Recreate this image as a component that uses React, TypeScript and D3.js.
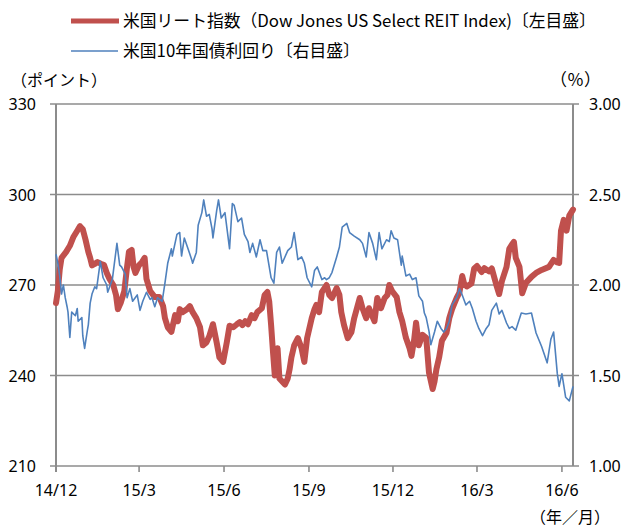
import * as d3 from "d3";

// 米国リート指数（左目盛, ポイント）
const reitData: [string, number][] = [
  ["2014-12-01", 264], ["2014-12-03", 268], ["2014-12-05", 275], ["2014-12-07", 279], ["2014-12-12", 281],
  ["2014-12-16", 283], ["2014-12-20", 286], ["2014-12-24", 288], ["2014-12-27", 289.5], ["2014-12-30", 288.5],
  ["2015-01-02", 285], ["2015-01-05", 281], ["2015-01-07", 279], ["2015-01-09", 276.5], ["2015-01-12", 277],
  ["2015-01-15", 277.6], ["2015-01-19", 277], ["2015-01-22", 276.6], ["2015-01-25", 274], ["2015-01-28", 272],
  ["2015-02-01", 270], ["2015-02-04", 266.7], ["2015-02-06", 262], ["2015-02-09", 264], ["2015-02-13", 268],
  ["2015-02-16", 276], ["2015-02-18", 281], ["2015-02-21", 281.6], ["2015-02-23", 276], ["2015-02-25", 274],
  ["2015-03-01", 276.6], ["2015-03-04", 277.5], ["2015-03-07", 279], ["2015-03-09", 272], ["2015-03-13", 268],
  ["2015-03-18", 266], ["2015-03-23", 266], ["2015-03-27", 263], ["2015-03-29", 259], ["2015-04-01", 256],
  ["2015-04-05", 254.5], ["2015-04-09", 260], ["2015-04-12", 258], ["2015-04-14", 262], ["2015-04-17", 261],
  ["2015-04-22", 262], ["2015-04-25", 263], ["2015-04-28", 261], ["2015-05-02", 259], ["2015-05-06", 256],
  ["2015-05-09", 250], ["2015-05-13", 251], ["2015-05-16", 253], ["2015-05-20", 257], ["2015-05-24", 251],
  ["2015-05-27", 246], ["2015-05-31", 244.5], ["2015-06-04", 251], ["2015-06-07", 256.5], ["2015-06-11", 256],
  ["2015-06-15", 257], ["2015-06-18", 257.7], ["2015-06-21", 256.7], ["2015-06-24", 258], ["2015-06-27", 257],
  ["2015-07-01", 260], ["2015-07-04", 259], ["2015-07-07", 261], ["2015-07-12", 262.3], ["2015-07-15", 266.7],
  ["2015-07-18", 267.7], ["2015-07-20", 264.4], ["2015-07-22", 256.7], ["2015-07-24", 248], ["2015-07-26", 240],
  ["2015-07-29", 249], ["2015-07-31", 239], ["2015-08-03", 238], ["2015-08-06", 237], ["2015-08-09", 239],
  ["2015-08-11", 242], ["2015-08-13", 246], ["2015-08-16", 250], ["2015-08-20", 252.4], ["2015-08-24", 249],
  ["2015-08-27", 244.5], ["2015-08-30", 252.4], ["2015-09-04", 259], ["2015-09-07", 262], ["2015-09-09", 263.4],
  ["2015-09-12", 261], ["2015-09-15", 267.7], ["2015-09-18", 269], ["2015-09-20", 270], ["2015-09-23", 266.7],
  ["2015-09-26", 265.7], ["2015-10-01", 269], ["2015-10-04", 266.7], ["2015-10-06", 261], ["2015-10-09", 256.7],
  ["2015-10-13", 252.4], ["2015-10-17", 254.4], ["2015-10-20", 259], ["2015-10-26", 265.7], ["2015-10-29", 262.3],
  ["2015-11-02", 259], ["2015-11-05", 262.3], ["2015-11-11", 258], ["2015-11-14", 265.7], ["2015-11-18", 262.3],
  ["2015-11-22", 265.7], ["2015-11-25", 266.7], ["2015-11-27", 270], ["2015-11-30", 268], ["2015-12-05", 266],
  ["2015-12-08", 261], ["2015-12-11", 258], ["2015-12-15", 252.5], ["2015-12-19", 249], ["2015-12-21", 246.5],
  ["2015-12-24", 252], ["2015-12-26", 257.5], ["2015-12-29", 250], ["2016-01-02", 253.5], ["2016-01-06", 252.5],
  ["2016-01-09", 241], ["2016-01-13", 235.5], ["2016-01-15", 238], ["2016-01-17", 242], ["2016-01-20", 246],
  ["2016-01-23", 251.5], ["2016-01-28", 254.2], ["2016-01-31", 259], ["2016-02-03", 262], ["2016-02-08", 265.7],
  ["2016-02-11", 267.5], ["2016-02-14", 273], ["2016-02-16", 270.5], ["2016-02-19", 269.5], ["2016-02-24", 270.5],
  ["2016-02-27", 275.5], ["2016-03-01", 276.3], ["2016-03-06", 274.3], ["2016-03-09", 275.6], ["2016-03-14", 274.5],
  ["2016-03-17", 275.5], ["2016-03-22", 270], ["2016-03-25", 267], ["2016-03-28", 271.3], ["2016-04-02", 276],
  ["2016-04-05", 282], ["2016-04-08", 283.5], ["2016-04-10", 284.3], ["2016-04-12", 279], ["2016-04-16", 276],
  ["2016-04-19", 267.3], ["2016-04-23", 270.7], ["2016-04-29", 272.7], ["2016-05-04", 274], ["2016-05-10", 275],
  ["2016-05-18", 276], ["2016-05-23", 278.3], ["2016-05-27", 277.5], ["2016-05-29", 277.3], ["2016-05-31", 288],
  ["2016-06-03", 291.6], ["2016-06-06", 288], ["2016-06-09", 293], ["2016-06-13", 295],
];

// 米国10年国債利回り（右目盛, %）
const yieldData: [string, number][] = [
  ["2014-12-01", 2.17], ["2014-12-03", 2.12], ["2014-12-05", 2.05], ["2014-12-07", 1.95], ["2014-12-09", 2.0],
  ["2014-12-11", 1.93], ["2014-12-13", 1.88], ["2014-12-14", 1.85], ["2014-12-16", 1.71], ["2014-12-18", 1.85],
  ["2014-12-22", 1.83], ["2014-12-24", 1.87], ["2014-12-25", 1.8], ["2014-12-29", 1.82], ["2014-12-30", 1.72],
  ["2015-01-01", 1.65], ["2015-01-04", 1.75], ["2015-01-05", 1.78], ["2015-01-07", 1.9], ["2015-01-09", 1.95],
  ["2015-01-12", 1.99], ["2015-01-14", 1.98], ["2015-01-18", 2.13], ["2015-01-21", 2.04], ["2015-01-25", 2.0],
  ["2015-01-26", 1.96], ["2015-01-31", 2.03], ["2015-02-02", 2.11], ["2015-02-05", 2.23], ["2015-02-08", 2.11],
  ["2015-02-10", 2.1], ["2015-02-14", 2.06], ["2015-02-16", 1.93], ["2015-02-19", 1.98], ["2015-02-22", 1.91],
  ["2015-02-27", 1.945], ["2015-03-02", 1.86], ["2015-03-05", 1.91], ["2015-03-09", 1.96], ["2015-03-13", 1.92],
  ["2015-03-15", 1.93], ["2015-03-18", 1.88], ["2015-03-21", 1.93], ["2015-03-26", 1.91], ["2015-03-29", 2.01],
  ["2015-04-01", 2.12], ["2015-04-05", 2.2], ["2015-04-06", 2.16], ["2015-04-11", 2.28], ["2015-04-14", 2.29],
  ["2015-04-16", 2.16], ["2015-04-19", 2.26], ["2015-04-23", 2.2], ["2015-04-27", 2.14], ["2015-04-28", 2.12],
  ["2015-05-02", 2.18], ["2015-05-04", 2.33], ["2015-05-08", 2.4], ["2015-05-10", 2.47], ["2015-05-13", 2.38],
  ["2015-05-16", 2.39], ["2015-05-19", 2.31], ["2015-05-20", 2.26], ["2015-05-24", 2.41], ["2015-05-26", 2.47],
  ["2015-05-29", 2.37], ["2015-06-02", 2.4], ["2015-06-07", 2.2], ["2015-06-10", 2.45], ["2015-06-12", 2.44],
  ["2015-06-16", 2.35], ["2015-06-20", 2.37], ["2015-06-23", 2.28], ["2015-06-27", 2.24], ["2015-06-29", 2.18],
  ["2015-07-02", 2.23], ["2015-07-06", 2.155], ["2015-07-10", 2.25], ["2015-07-13", 2.19], ["2015-07-17", 2.19],
  ["2015-07-22", 2.04], ["2015-07-25", 2.01], ["2015-07-28", 2.18], ["2015-07-31", 2.21], ["2015-08-03", 2.12],
  ["2015-08-09", 2.19], ["2015-08-13", 2.21], ["2015-08-16", 2.29], ["2015-08-20", 2.14], ["2015-08-24", 2.155],
  ["2015-08-27", 2.12], ["2015-08-30", 2.04], ["2015-09-04", 1.99], ["2015-09-07", 2.08], ["2015-09-10", 2.1],
  ["2015-09-15", 2.03], ["2015-09-18", 2.04], ["2015-09-20", 2.03], ["2015-09-23", 2.04], ["2015-09-26", 2.07],
  ["2015-10-01", 2.155], ["2015-10-04", 2.21], ["2015-10-07", 2.32], ["2015-10-12", 2.34], ["2015-10-15", 2.29],
  ["2015-10-20", 2.27], ["2015-10-26", 2.25], ["2015-10-29", 2.23], ["2015-11-02", 2.155], ["2015-11-05", 2.29],
  ["2015-11-09", 2.23], ["2015-11-13", 2.14], ["2015-11-16", 2.29], ["2015-11-19", 2.2], ["2015-11-24", 2.25],
  ["2015-11-27", 2.24], ["2015-11-29", 2.3], ["2015-12-02", 2.26], ["2015-12-06", 2.25], ["2015-12-10", 2.11],
  ["2015-12-11", 2.16], ["2015-12-15", 2.05], ["2015-12-19", 2.06], ["2015-12-22", 2.03], ["2015-12-26", 2.04],
  ["2015-12-29", 1.94], ["2016-01-02", 1.91], ["2016-01-04", 1.845], ["2016-01-06", 1.82], ["2016-01-09", 1.745],
  ["2016-01-11", 1.67], ["2016-01-15", 1.74], ["2016-01-18", 1.8], ["2016-01-22", 1.76], ["2016-01-25", 1.74],
  ["2016-01-28", 1.76], ["2016-01-31", 1.8], ["2016-02-03", 1.89], ["2016-02-08", 1.93], ["2016-02-11", 1.98],
  ["2016-02-14", 1.945], ["2016-02-18", 1.89], ["2016-02-22", 1.91], ["2016-02-25", 1.87], ["2016-02-29", 1.8],
  ["2016-03-03", 1.76], ["2016-03-07", 1.72], ["2016-03-11", 1.76], ["2016-03-14", 1.78], ["2016-03-17", 1.86],
  ["2016-03-22", 1.9], ["2016-03-25", 1.84], ["2016-03-28", 1.86], ["2016-04-02", 1.79], ["2016-04-05", 1.76],
  ["2016-04-08", 1.77], ["2016-04-12", 1.75], ["2016-04-18", 1.845], ["2016-04-23", 1.84], ["2016-04-29", 1.845],
  ["2016-05-04", 1.735], ["2016-05-10", 1.66], ["2016-05-16", 1.57], ["2016-05-20", 1.7], ["2016-05-23", 1.74],
  ["2016-05-27", 1.51], ["2016-05-29", 1.44], ["2016-06-01", 1.51], ["2016-06-05", 1.38], ["2016-06-09", 1.36],
  ["2016-06-13", 1.44],
];

const leftTicks = [210, 240, 270, 300, 330];
const rightTicks = [1.0, 1.5, 2.0, 2.5, 3.0];
const xTickDates = ["2014-12-01", "2015-03-01", "2015-06-01", "2015-09-01", "2015-12-01", "2016-03-01", "2016-06-01"];
const xTickLabels = ["14/12", "15/3", "15/6", "15/9", "15/12", "16/3", "16/6"];
const legendLabels = ["米国リート指数（Dow Jones US Select REIT Index)〔左目盛〕", "米国10年国債利回り〔右目盛〕"];

const RED = "#C0504D";
const BLUE = "#4F81BD";
const GRID = "#8c8c8c";
const JP = "'Noto Sans CJK JP', 'Noto Sans', sans-serif";
const NUM = "'Noto Sans', 'Noto Sans CJK JP', sans-serif";

export default function App() {
  const w = 625;
  const h = 530;
  const left = 56;
  const right = 573;
  const top = 104;
  const bottom = 466;
  const parse = d3.timeParse("%Y-%m-%d");

  const x = d3
    .scaleTime()
    .domain([parse("2014-12-01")!, parse("2016-06-13")!])
    .range([left, right]);
  const yL = d3.scaleLinear().domain([210, 330]).range([bottom, top]);
  const yR = d3.scaleLinear().domain([1, 3]).range([bottom, top]);

  const reitLine = d3
    .line<[string, number]>()
    .x((d) => x(parse(d[0])!))
    .y((d) => yL(d[1]));
  const yieldLine = d3
    .line<[string, number]>()
    .x((d) => x(parse(d[0])!))
    .y((d) => yR(d[1]));

  return (
    <svg
      width={w}
      height={h}
      viewBox={`0 0 ${w} ${h}`}
      style={{ position: "absolute", left: 0, top: 0, background: "#fff" }}
    >
      {/* legend */}
      <line x1={71} x2={119} y1={21} y2={21} stroke={RED} strokeWidth={5} />
      <text x={123} y={27} fontFamily={JP} fontSize={16.8} fill="#000">
        {legendLabels[0]}
      </text>
      <line x1={71} x2={118} y1={51} y2={51} stroke={BLUE} strokeWidth={1.6} />
      <text x={123} y={57} fontFamily={JP} fontSize={16.8} fill="#000">
        {legendLabels[1]}
      </text>

      {/* unit labels */}
      <text x={11} y={86} fontFamily={JP} fontSize={16} fill="#000">
        （ポイント）
      </text>
      <text x={550} y={86} fontFamily={JP} fontSize={17} fill="#000">
        （％）
      </text>
      <text x={530} y={523} fontFamily={JP} fontSize={16} fill="#000">
        （年／月）
      </text>

      {/* grid lines */}
      {leftTicks.map((t) => (
        <line key={`g${t}`} x1={left - 6} x2={right + 6} y1={yL(t)} y2={yL(t)} stroke={GRID} strokeWidth={1.6} />
      ))}
      {/* vertical axes */}
      <line x1={left} x2={left} y1={top} y2={bottom + 6} stroke={GRID} strokeWidth={2} />
      <line x1={right} x2={right} y1={top} y2={bottom} stroke={GRID} strokeWidth={2} />
      {xTickDates.map((d) => (
        <line key={`xt${d}`} x1={x(parse(d)!)} x2={x(parse(d)!)} y1={bottom} y2={bottom + 6} stroke={GRID} strokeWidth={1.6} />
      ))}

      {/* left tick labels */}
      {leftTicks.map((t) => (
        <text key={`l${t}`} x={36} y={yL(t) + 6} textAnchor="end" fontFamily={NUM} fontSize={16} fill="#000">
          {t}
        </text>
      ))}
      {/* right tick labels */}
      {rightTicks.map((t) => (
        <text key={`r${t}`} x={589} y={yR(t) + 6} fontFamily={NUM} fontSize={16} fill="#000">
          {t.toFixed(2)}
        </text>
      ))}
      {/* x tick labels */}
      {xTickDates.map((d, i) => (
        <text key={`xl${d}`} x={x(parse(d)!)} y={496} textAnchor="middle" fontFamily={NUM} fontSize={16} fill="#000">
          {xTickLabels[i]}
        </text>
      ))}

      {/* series */}
      <path d={reitLine(reitData) ?? ""} fill="none" stroke={RED} strokeWidth={6} strokeLinejoin="round" strokeLinecap="round" />
      <path d={yieldLine(yieldData) ?? ""} fill="none" stroke={BLUE} strokeWidth={1.6} strokeLinejoin="round" />
    </svg>
  );
}
